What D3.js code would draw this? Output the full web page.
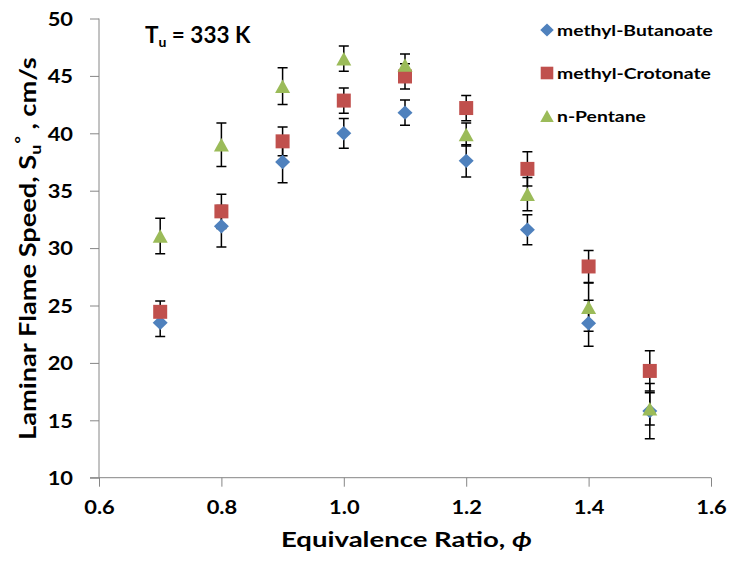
<!DOCTYPE html>
<html><head><meta charset="utf-8">
<script src="https://cdn.jsdelivr.net/npm/d3@7"></script>
<style>body{margin:0;background:#fff}svg{display:block}text{font-family:Lato,"Open Sans",sans-serif;font-weight:bold;fill:#000}</style>
</head><body>
<svg id="c" width="730" height="569"></svg>
<script>
const phi = [0.7, 0.8, 0.9, 1.0, 1.1, 1.2, 1.3, 1.4, 1.5];
const butanoate = [23.5, 31.9, 37.5, 40.0, 41.8, 37.6, 31.6, 23.45, 15.8];
const butanoateErr = [1.2, 1.8, 1.8, 1.3, 1.1, 1.4, 1.3, 2.0, 2.4];
const crotonate = [24.45, 33.2, 39.3, 42.85, 44.95, 42.2, 36.9, 28.4, 19.3];
const crotonateErr = [0.95, 1.5, 1.25, 1.1, 1.1, 1.1, 1.5, 1.4, 1.75];
const pentane = [31.05, 39.0, 44.1, 46.5, 45.95, 39.9, 34.7, 24.85, 16.0];
const pentaneErr = [1.55, 1.9, 1.6, 1.1, 0.95, 1.0, 1.45, 2.1, 1.4];
const seriesNames = ["methyl-Butanoate", "methyl-Crotonate", "n-Pentane"];
const xTicks = [0.6, 0.8, 1.0, 1.2, 1.4, 1.6];
const yTicks = [10, 15, 20, 25, 30, 35, 40, 45, 50];

const series = [
  {name: seriesNames[0], vals: butanoate, err: butanoateErr, color: "#4F81BD", shape: "diamond"},
  {name: seriesNames[1], vals: crotonate, err: crotonateErr, color: "#C0504D", shape: "square"},
  {name: seriesNames[2], vals: pentane, err: pentaneErr, color: "#9BBB59", shape: "triangle"}
];

const svg = d3.select("#c");
const L = 99, R = 711, T = 18.5, B = 477.7;
const x = d3.scaleLinear().domain([0.6, 1.6]).range([L, R]);
const y = d3.scaleLinear().domain([10, 50]).range([B, T]);
const axisColor = "#868686";

function stretch(sel, f) {
  sel.each(function() {
    const w = this.getComputedTextLength();
    d3.select(this).attr("textLength", w * f).attr("lengthAdjust", "spacingAndGlyphs");
  });
}
// scale a text element (placed at 0,0) so its width equals target
function fitWidth(t, x0, y0, target, rot) {
  const w = t.node().getBBox().width;
  t.attr("transform", `translate(${x0},${y0})${rot ? " rotate(" + rot + ")" : ""} scale(${target / w},1)`);
}

// y axis
const ya = svg.append("g").attr("transform", `translate(${L},0)`)
  .call(d3.axisLeft(y).tickValues(yTicks).tickSize(9).tickPadding(17).tickFormat(d3.format("d")));
ya.select(".domain").attr("stroke", axisColor).attr("d", `M0,${T}V${B}`);
ya.selectAll(".tick line").attr("stroke", axisColor);
ya.selectAll(".tick text").attr("font-size", 19).attr("font-family", "Lato").attr("font-weight", "bold").attr("fill", "#000").attr("dy", "0.36em");
stretch(ya.selectAll(".tick text"), 1.15);

// x axis
const xa = svg.append("g").attr("transform", `translate(0,${B})`)
  .call(d3.axisBottom(x).tickValues(xTicks).tickSize(9).tickPadding(14).tickFormat(d3.format(".1f")));
xa.select(".domain").attr("stroke", axisColor).attr("d", `M${L-9},0H${R}`);
xa.selectAll(".tick line").attr("stroke", axisColor);
xa.selectAll(".tick text").attr("font-size", 19).attr("font-family", "Lato").attr("font-weight", "bold").attr("fill", "#000");
stretch(xa.selectAll(".tick text"), 1.15);

// error bars
const cap = 5;
series.forEach(s => {
  const g = svg.append("g").attr("stroke", "#000").attr("stroke-width", 1.5).attr("fill", "none");
  phi.forEach((p, i) => {
    const cx = x(p), y1 = y(s.vals[i] + s.err[i]), y2 = y(s.vals[i] - s.err[i]);
    g.append("path").attr("d", `M${cx},${y1}V${y2}M${cx-cap},${y1}H${cx+cap}M${cx-cap},${y2}H${cx+cap}`);
  });
});

function shapePath(shape, cx, cy, k) {
  if (shape === "diamond") { const w = 7.5*k, h = 7.2*k; return `M${cx},${cy-h}L${cx+w},${cy}L${cx},${cy+h}L${cx-w},${cy}Z`; }
  if (shape === "square") { const h = 7*k; return `M${cx-h},${cy-h}H${cx+h}V${cy+h}H${cx-h}Z`; }
  const w = 7.5*k, h = 6.8*k; return `M${cx},${cy-h}L${cx+w},${cy+h}L${cx-w},${cy+h}Z`;
}

// markers
series.forEach(s => {
  svg.append("g").selectAll("path").data(phi).join("path")
    .attr("d", (p, i) => shapePath(s.shape, x(p), y(s.vals[i]), 1))
    .attr("fill", s.color);
});

// legend
const legY = [30, 73, 116];
const legW = [156, 154, 89];
series.forEach((s, i) => {
  svg.append("path").attr("d", shapePath(s.shape, 547, legY[i], 0.9)).attr("fill", s.color);
  const t = svg.append("text").attr("font-size", 15).text(s.name);
  fitWidth(t, 557, legY[i] + 5.5, legW[i]);
});

// title
const tt = svg.append("text").attr("font-size", 22.5);
tt.append("tspan").text("T");
tt.append("tspan").attr("font-size", 14).attr("dy", 4).text("u");
tt.append("tspan").attr("dy", -4).text(" = 333 K");
fitWidth(tt, 145, 43, 106);

// x axis title
const xt = svg.append("text").attr("font-size", 21);
xt.append("tspan").text("Equivalence Ratio,  ");
xt.append("tspan").attr("font-style", "italic").text("ϕ");
fitWidth(xt, 281, 547, 251);

// y axis title
const yt = svg.append("text").attr("font-size", 23);
yt.append("tspan").text("Laminar Flame Speed, S");
yt.append("tspan").attr("font-size", 15).attr("dy", 5).text("u");
yt.append("tspan").attr("font-size", 15).attr("dy", -15).attr("dx", 1).text("°");
yt.append("tspan").attr("dy", 10).text(" , cm/s");
fitWidth(yt, 36, 440, 383, -90);
</script>
</body></html>
